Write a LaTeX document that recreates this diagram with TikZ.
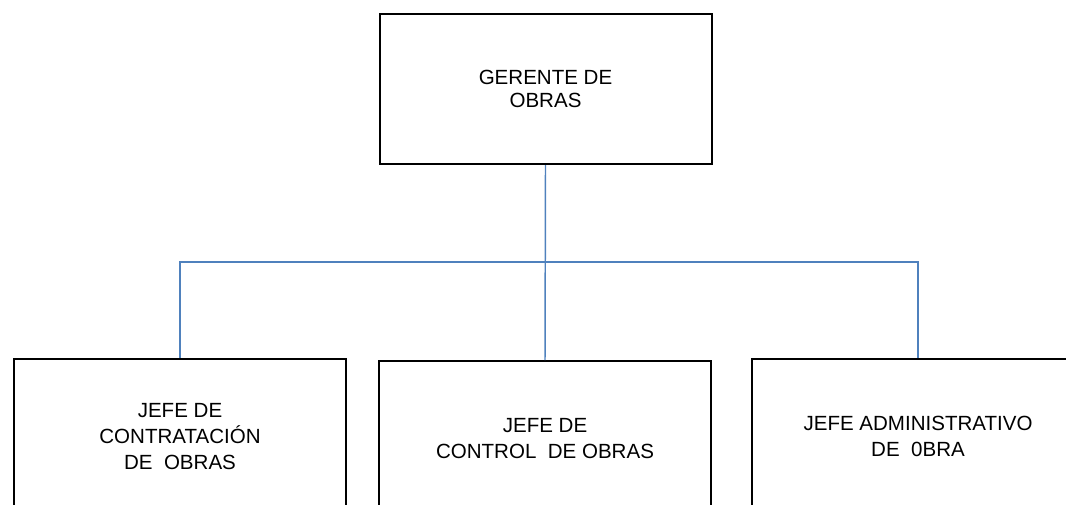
\documentclass[tikz,border=0pt]{standalone}
\usepackage{fontspec}
\setmainfont{Liberation Sans}
\definecolor{azul}{RGB}{79,129,189}

\begin{document}
\begin{tikzpicture}[x=0.75pt,y=-0.75pt,
  puesto/.style={draw=black,line width=1.5pt,minimum width=249pt,minimum height=116.25pt,
    inner sep=0pt,align=center,font=\fontsize{15.4}{19.3}\selectfont},
  conector/.style={draw=azul,line width=1.1pt}]

\useasboundingbox (0,0) rectangle (1066,504);
\clip (0,0) rectangle (1066,504);

\begin{scope}
\node[puesto,minimum height=112.5pt,font=\fontsize{15.4}{17.25}\selectfont] (gerente) at (545.5,89) {GERENTE DE\\OBRAS};

\node[puesto] (contratacion) at (180,436.5) {JEFE DE\\CONTRATACIÓN\\DE~ OBRAS};
\node[puesto] (control) at (545,438.5) {JEFE DE\\CONTROL~ DE OBRAS};
\node[puesto] (admin) at (918,436.5) {JEFE ADMINISTRATIVO\\DE~ 0BRA};

\coordinate (bus) at (545,262);

\draw[conector] (gerente.south) -- (control.north);
\draw[conector] (contratacion.north) |- (bus) -| (admin.north);
\end{scope}

\end{tikzpicture}
\end{document}
